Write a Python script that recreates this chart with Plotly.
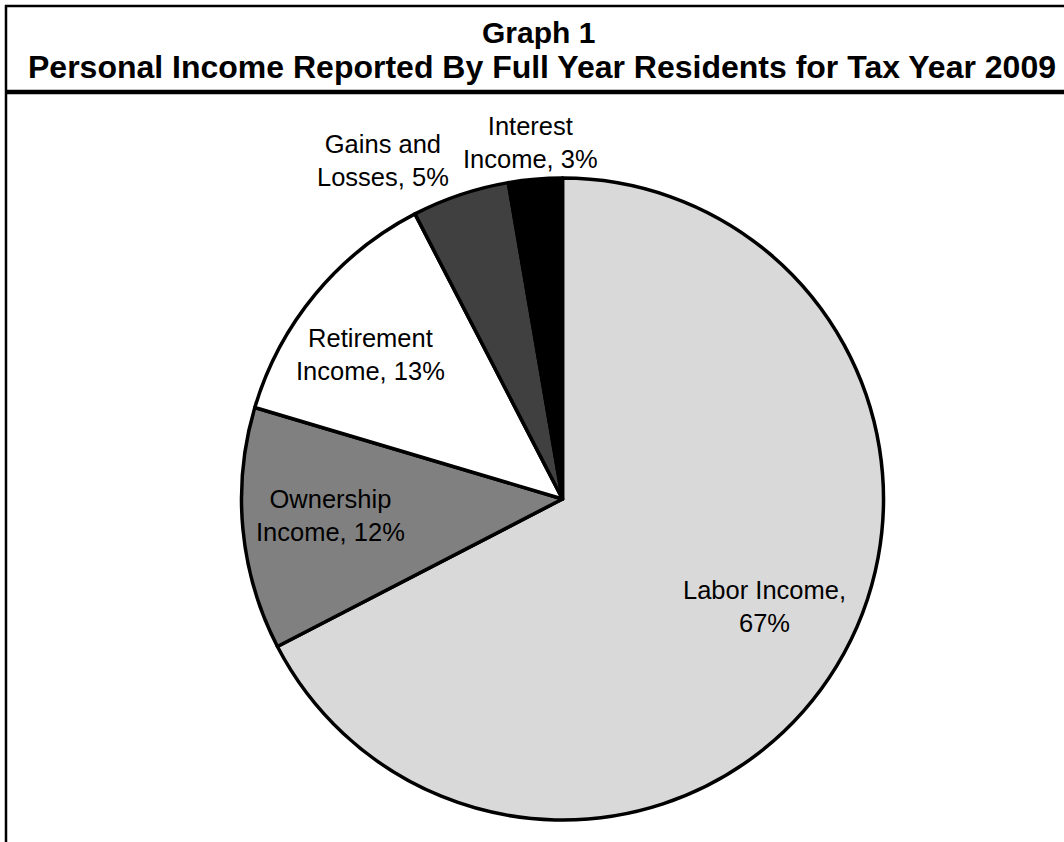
import plotly.graph_objects as go

W, H = 1064, 842

# ---- data ----
categories = ["Labor Income", "Ownership Income", "Retirement Income", "Gains and Losses", "Interest Income"]
shares = [67.4, 12.2, 12.8, 4.9, 2.7]
label_lines = [("Labor Income,", ""), ("Ownership", "Income, "), ("Retirement", "Income, "),
               ("Gains and", "Losses, "), ("Interest", "Income, ")]
colors = ["#d9d9d9", "#808080", "#ffffff", "#404040", "#000000"]

title_line1 = "Graph 1"
title_line2 = "Personal Income Reported By Full Year Residents for Tax Year 2009"

# ---- layout constants (pixels) ----
cx, cy, R = 562.5, 499, 321
label_pos = [(764, 606), (330, 515), (370, 355), (383, 161), (530, 142)]

def px(x):
    return x / W

def py(y):
    return 1 - y / H

total = sum(shares)
texts = []
for (l1, l2), v in zip(label_lines, shares):
    pct = f"{round(v / total * 100)}%"
    if l2:
        texts.append(f"{l1}<br>{l2}{pct}")
    else:
        texts.append(f"{l1}<br>{pct}")

fig = go.Figure(go.Pie(
    labels=categories,
    values=shares,
    sort=False,
    direction="clockwise",
    rotation=0,
    textinfo="none",
    hoverinfo="label+percent",
    marker=dict(colors=colors, line=dict(color="black", width=3.5)),
    domain=dict(x=[px(cx - R), px(cx + R)], y=[py(cy + R), py(cy - R)]),
    showlegend=False,
))

annotations = []
for t, (x, y) in zip(texts, label_pos):
    annotations.append(dict(
        text=t, x=px(x), y=py(y), xref="paper", yref="paper",
        xanchor="center", yanchor="middle", showarrow=False, align="center",
        font=dict(family="Liberation Sans", size=25.5, color="black"),
    ))
annotations.append(dict(
    text=f"<b>{title_line1}</b>", x=px(538), y=py(32), xref="paper", yref="paper",
    xanchor="center", yanchor="middle", showarrow=False,
    font=dict(family="Liberation Sans", size=30, color="black"),
))
annotations.append(dict(
    text=f"<b>{title_line2}</b>", x=px(542), y=py(67), xref="paper", yref="paper",
    xanchor="center", yanchor="middle", showarrow=False,
    font=dict(family="Liberation Sans", size=32, color="black"),
))

shapes = [
    dict(type="line", xref="paper", yref="paper", x0=px(5), x1=1, y0=py(6), y1=py(6),
         line=dict(color="black", width=2.5)),
    dict(type="line", xref="paper", yref="paper", x0=px(6), x1=px(6), y0=py(5), y1=0,
         line=dict(color="black", width=2.5)),
    dict(type="line", xref="paper", yref="paper", x0=px(5), x1=1, y0=py(92), y1=py(92),
         line=dict(color="black", width=4.5)),
]

fig.update_layout(
    width=W, height=H,
    margin=dict(l=0, r=0, t=0, b=0),
    paper_bgcolor="white", plot_bgcolor="white",
    annotations=annotations, shapes=shapes,
)

fig.write_html("out.html")
